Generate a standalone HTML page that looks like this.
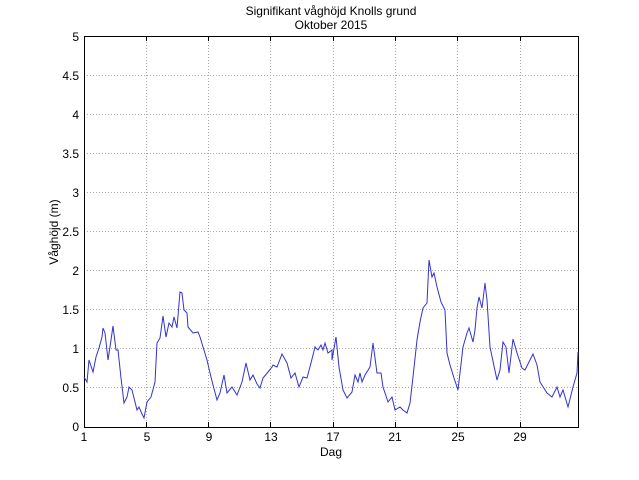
<!DOCTYPE html>
<html><head><meta charset="utf-8"><style>body{margin:0;background:#fff}svg{display:block}</style></head><body>
<svg width="639" height="480" xmlns="http://www.w3.org/2000/svg" font-family="Liberation Sans, sans-serif" font-size="12">
<rect width="639" height="480" fill="#fff"/>
<g stroke="#aaa" stroke-width="1" stroke-dasharray="1,2">
<line x1="146.5" y1="36" x2="146.5" y2="427"/><line x1="208.5" y1="36" x2="208.5" y2="427"/>
<line x1="270.5" y1="36" x2="270.5" y2="427"/><line x1="333.5" y1="36" x2="333.5" y2="427"/>
<line x1="395.5" y1="36" x2="395.5" y2="427"/><line x1="457.5" y1="36" x2="457.5" y2="427"/>
<line x1="520.5" y1="36" x2="520.5" y2="427"/>
<line x1="84" y1="387.5" x2="578" y2="387.5"/><line x1="84" y1="348.5" x2="578" y2="348.5"/>
<line x1="84" y1="309.5" x2="578" y2="309.5"/><line x1="84" y1="270.5" x2="578" y2="270.5"/>
<line x1="84" y1="231.5" x2="578" y2="231.5"/><line x1="84" y1="192.5" x2="578" y2="192.5"/>
<line x1="84" y1="153.5" x2="578" y2="153.5"/><line x1="84" y1="114.5" x2="578" y2="114.5"/>
<line x1="84" y1="75.5" x2="578" y2="75.5"/>
</g>
<rect x="84.5" y="36.5" width="494" height="391" fill="none" stroke="#000" stroke-width="1"/>
<g stroke="#000">
<line x1="146.5" y1="427" x2="146.5" y2="422"/><line x1="208.5" y1="427" x2="208.5" y2="422"/><line x1="270.5" y1="427" x2="270.5" y2="422"/><line x1="333.5" y1="427" x2="333.5" y2="422"/><line x1="395.5" y1="427" x2="395.5" y2="422"/><line x1="457.5" y1="427" x2="457.5" y2="422"/><line x1="520.5" y1="427" x2="520.5" y2="422"/>
<line x1="146.5" y1="36" x2="146.5" y2="41"/><line x1="208.5" y1="36" x2="208.5" y2="41"/><line x1="270.5" y1="36" x2="270.5" y2="41"/><line x1="333.5" y1="36" x2="333.5" y2="41"/><line x1="395.5" y1="36" x2="395.5" y2="41"/><line x1="457.5" y1="36" x2="457.5" y2="41"/><line x1="520.5" y1="36" x2="520.5" y2="41"/>
</g>
<polyline fill="none" stroke="#3333cc" stroke-width="1" points="84,377 87,382 89,360 91,366 93,372 96,357 99,348 102,337 103,328 105,333 108,360 111,340 113,326 116,350 118,350 121,378 124,403 127,397 129,387 132,390 135,402 137,410 139,407 142,414 144,418 147,402 151,397 155,382 157,343 160,338 163,316 166,337 169,323 172,327 174,317 177,328 180,292 182,293 184,310 187,313 188,327 193,333 198,332 200,337 207,360 210,373 213,385 217,400 220,393 224,375 227,393 232,387 237,395 242,382 246,363 250,380 253,375 257,384 260,388 263,378 268,372 272,367 273,365 277,367 282,354 287,363 291,378 295,373 299,387 303,377 307,378 311,363 315,347 318,350 321,345 323,350 325,343 328,353 332,350 332,360 336,337 339,367 343,390 347,398 352,392 355,375 358,382 360,373 362,382 365,375 370,367 373,343 377,373 381,373 383,387 388,402 392,397 395,410 400,407 403,410 407,413 410,403 413,377 417,340 420,322 423,308 427,303 429,260 432,277 434,273 437,287 441,302 445,310 447,353 450,365 454,378 458,390 463,347 467,333 469,328 473,342 475,330 477,308 479,297 482,308 485,283 487,300 490,347 494,366 497,380 500,370 503,342 506,347 509,373 513,339 517,353 522,368 525,370 530,360 533,354 537,365 540,382 547,393 552,397 557,387 560,397 563,390 568,407 573,387 577,373 578,352"/>
<g text-anchor="end">
<text x="79" y="431">0</text><text x="79" y="392">0.5</text><text x="79" y="353">1</text><text x="79" y="314">1.5</text><text x="79" y="275">2</text><text x="79" y="236">2.5</text><text x="79" y="197">3</text><text x="79" y="158">3.5</text><text x="79" y="119">4</text><text x="79" y="80">4.5</text><text x="79" y="41">5</text>
</g>
<g text-anchor="middle">
<text x="84" y="441">1</text><text x="147" y="441">5</text><text x="209" y="441">9</text><text x="271" y="441">13</text><text x="333" y="441">17</text><text x="395" y="441">21</text><text x="458" y="441">25</text><text x="520" y="441">29</text>
<text x="331" y="456">Dag</text>
<text x="331" y="15">Signifikant våghöjd Knolls grund</text>
<text x="331" y="29">Oktober 2015</text>
<text transform="translate(58,232) rotate(-90)">Våghöjd (m)</text>
</g>
</svg>
</body></html>
